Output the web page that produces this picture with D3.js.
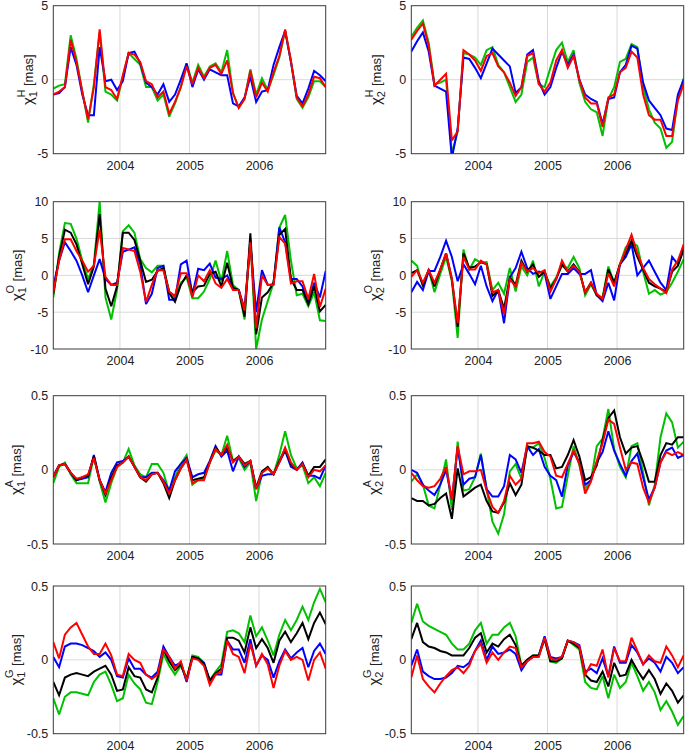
<!DOCTYPE html>
<html><head><meta charset="utf-8">
<script src="https://cdn.jsdelivr.net/npm/d3@7"></script>
<style>
body{margin:0;background:#fff;}
text{font-family:"Liberation Sans",Arial,Helvetica,sans-serif;}
</style></head>
<body><svg id="c" width="685" height="753"></svg>
<script>
// monthly epochs Jan 2003 .. Dec 2006 (mid-month)
const months = d3.range(48).map(i => 2003 + (i + 0.5) / 12);
const xTicks = [2004, 2005, 2006];
const yTicksH = [-5, 0, 5];
const yTicksO = [-10, -5, 0, 5, 10];
const yTicksAG = [-0.5, 0, 0.5];

// chi1 H
const h1_green = [-0.6,-0.4,-0.3,3.0,1.4,-0.8,-2.9,-0.3,3.2,-0.8,-1.0,-1.4,0.2,1.8,1.4,1.0,-0.5,-0.5,-1.4,-1.0,-2.5,-1.6,-0.5,1.1,-0.2,1.0,0.2,0.9,1.1,0.5,2.0,-0.9,-1.9,-1.3,0.7,-1.0,0.1,-0.7,0.3,1.5,3.3,1.2,-1.3,-1.9,-1.2,-0.1,-0.1,-0.5];
const h1_blue = [-1.0,-0.9,-0.5,2.2,1.0,-1.0,-2.4,-2.4,2.2,-0.1,0.0,-0.7,-0.1,1.8,1.9,1.1,-0.2,-0.5,-1.0,-0.3,-1.5,-1.0,0.0,1.1,-0.5,0.7,0.0,0.7,0.5,0.3,0.3,-1.6,-1.8,-1.2,0.2,-1.5,-0.8,-0.7,1.0,2.2,3.3,1.2,-1.1,-1.6,-0.6,0.6,0.3,-0.1];
const h1_red = [-1.0,-0.8,-0.5,2.7,1.2,-0.8,-2.7,-0.5,3.4,-0.5,-0.7,-1.3,0.3,1.8,1.7,1.2,-0.1,-0.3,-1.2,-0.8,-2.3,-1.5,-0.5,0.9,-0.3,0.8,0.1,0.8,1.0,0.4,1.3,-0.9,-1.9,-1.3,0.6,-1.2,-0.2,-0.8,0.5,1.6,3.4,1.3,-1.2,-1.8,-1.0,0.2,0.1,-0.5];

// chi2 H
const h2_green = [2.9,3.5,4.0,2.5,-0.3,-0.2,0.0,-5.0,-3.5,1.8,1.7,1.5,1.0,2.0,2.2,1.0,0.5,-0.5,-1.5,-1.0,1.2,1.5,-0.3,-0.5,0.8,2.0,2.5,1.2,2.0,-0.2,-1.5,-2.0,-2.2,-3.8,-1.3,-0.5,1.2,1.4,2.4,2.2,-0.5,-2.0,-2.9,-3.3,-4.6,-4.2,-1.2,0.1];
const h2_blue = [1.9,2.6,3.2,1.9,-0.4,-0.6,-0.8,-5.3,-3.3,1.5,1.4,0.8,0.1,1.1,2.1,1.7,1.3,0.9,-0.9,-0.5,1.7,2.0,-0.1,-1.0,-0.5,0.8,1.9,1.0,1.7,0.0,-1.0,-1.3,-1.5,-3.0,-1.3,-1.2,0.5,1.0,2.3,2.1,-0.2,-1.4,-1.9,-2.4,-3.3,-3.4,-1.0,0.0];
const h2_red = [2.7,3.3,3.8,2.3,-0.4,0.0,0.4,-4.1,-3.5,2.0,1.7,1.3,0.6,1.6,1.8,0.9,0.5,-0.2,-1.1,-0.5,1.6,1.8,-0.3,-0.8,-0.2,1.3,2.0,0.8,1.6,0.0,-1.2,-1.6,-1.6,-3.2,-1.2,-1.0,0.5,0.8,1.9,1.5,-1.0,-2.4,-2.7,-2.7,-3.8,-3.8,-1.4,-0.3];

// chi1 O
const o1_green = [-3.0,3.0,7.1,7.0,5.0,2.0,-0.5,1.5,10.0,-3.0,-6.0,-2.0,6.0,6.8,5.8,2.2,1.0,0.4,1.3,1.3,-2.3,-3.2,-1.0,-0.3,-3.1,-3.1,-2.2,-0.5,2.0,-0.8,3.3,-1.3,-2.0,-6.0,5.0,-10.0,-6.0,-3.5,-1.0,6.5,8.2,2.0,-2.7,-2.5,-4.2,-2.3,-6.1,-6.2];
const o1_blue = [-1.5,2.0,4.5,3.3,2.0,0.0,-2.3,0.0,2.2,-0.5,-1.3,-1.0,3.2,3.5,3.8,1.5,-3.9,-2.5,1.0,1.3,-3.3,-3.3,1.5,2.0,-2.6,0.9,0.7,1.6,-0.3,-0.5,0.0,-1.7,-2.0,-4.5,4.5,-5.0,0.7,-1.3,-1.2,6.5,4.5,-0.5,-0.5,-1.5,-3.8,-1.0,-3.0,0.6];
const o1_black = [-2.5,2.5,6.2,5.8,4.2,1.5,-1.2,1.2,8.3,-1.8,-4.2,-1.5,5.8,5.8,4.8,2.0,-0.9,-0.6,0.6,1.0,-2.4,-3.6,-1.3,0.0,-2.3,-1.5,-1.4,0.2,0.5,-1.5,1.7,-1.7,-2.0,-5.6,5.7,-8.0,-3.0,-2.3,-1.0,5.5,6.3,-0.5,-2.0,-2.0,-3.9,-1.5,-4.9,-4.0];
const o1_red = [-2.3,2.0,4.9,4.9,3.3,2.0,0.5,1.3,6.2,-0.2,-1.3,-1.3,3.7,3.5,3.3,0.5,-3.6,-1.3,0.7,0.7,-2.2,-2.8,0.3,0.3,-3.0,0.0,-0.8,0.7,-1.1,-1.7,-0.5,-2.0,-2.0,-4.8,4.5,-7.2,0.0,-1.3,-1.3,5.2,4.3,-1.1,-0.8,-0.8,-3.2,0.2,-4.3,-1.8];

// chi2 O
const o2_green = [2.0,1.3,-1.5,0.8,-2.3,0.2,2.5,-0.8,-8.5,3.5,0.8,2.2,1.7,1.8,-2.0,-1.0,-2.5,1.0,-2.2,1.2,0.0,2.0,-1.5,0.5,-1.5,-0.3,1.3,1.0,2.5,1.0,-2.7,-1.2,-2.7,-3.0,1.2,-1.0,1.5,3.8,4.5,4.0,0.5,-2.5,-2.0,-2.6,-2.3,-1.0,0.5,2.2];
const o2_blue = [-2.3,-0.9,-2.0,0.6,0.6,2.5,4.7,2.5,-0.8,1.5,0.2,-1.2,1.3,-1.5,-3.5,-2.0,-6.5,-0.3,1.0,3.2,1.0,0.2,0.5,0.3,-3.2,-1.5,0.2,0.2,1.0,0.2,0.2,0.7,-2.7,-3.5,-1.0,-3.4,1.5,2.5,4.2,0.0,1.0,2.0,0.5,-1.0,-2.0,2.5,1.5,3.8];
const o2_black = [0.3,0.7,-1.3,0.7,-1.5,0.8,3.0,-0.5,-7.0,3.0,1.0,1.2,1.8,1.5,-2.8,-2.0,-4.5,-0.3,-1.3,2.0,0.5,1.5,-0.2,0.5,-1.8,-0.5,1.5,0.5,1.5,0.5,-2.3,-1.0,-2.7,-3.2,0.8,-1.0,1.5,3.0,4.7,2.5,0.8,-1.0,-1.5,-1.8,-2.2,0.5,1.3,3.5];
const o2_red = [-0.2,0.7,-1.0,0.7,-1.0,0.8,3.0,-0.5,-6.5,2.5,0.8,0.8,2.0,1.5,-2.3,-2.0,-5.3,-0.5,-1.5,1.7,0.5,1.0,0.3,0.7,-2.2,-0.5,2.0,0.5,1.3,0.5,-2.3,-1.0,-2.5,-3.2,0.3,-1.5,1.5,3.5,5.5,3.0,1.0,-0.5,-1.2,-1.8,-2.4,0.8,2.0,4.2];

// chi1 A
const a1_green = [-0.09,0.02,0.05,-0.03,-0.09,-0.09,-0.09,0.09,-0.08,-0.22,-0.09,0.02,0.05,0.14,0.03,-0.03,-0.05,0.04,0.04,-0.02,-0.15,-0.05,0.04,0.10,-0.10,-0.07,-0.06,0.05,0.13,0.10,0.23,0.06,0.08,0.00,0.05,-0.21,-0.02,0.01,-0.03,0.10,0.26,0.10,0.01,0.03,-0.09,-0.05,-0.11,-0.02];
const a1_blue = [-0.04,0.03,0.04,-0.02,-0.07,-0.06,-0.05,0.10,-0.07,-0.15,-0.02,0.05,0.06,0.09,0.02,-0.05,-0.05,-0.02,-0.02,-0.07,-0.14,-0.01,0.04,0.08,-0.05,-0.03,-0.02,0.06,0.16,0.09,0.13,-0.01,0.09,0.02,0.06,-0.13,-0.04,-0.03,-0.03,0.05,0.13,0.02,0.00,0.05,-0.04,-0.04,-0.06,0.03];
const a1_black = [-0.05,0.03,0.04,-0.02,-0.07,-0.05,-0.04,0.09,-0.07,-0.17,-0.05,0.03,0.05,0.09,0.02,-0.05,-0.08,-0.03,-0.02,-0.09,-0.19,-0.07,0.01,0.07,-0.07,-0.06,-0.05,0.05,0.15,0.10,0.15,0.06,0.09,0.04,0.06,-0.12,-0.01,0.02,-0.03,0.06,0.14,0.04,0.00,0.04,-0.04,0.02,0.02,0.07];
const a1_red = [-0.05,0.03,0.04,-0.02,-0.06,-0.05,-0.03,0.08,-0.07,-0.16,-0.07,0.02,0.05,0.09,0.02,-0.05,-0.07,-0.03,-0.02,-0.08,-0.16,-0.07,0.01,0.07,-0.09,-0.07,-0.07,0.05,0.14,0.10,0.17,0.05,0.09,0.03,0.06,-0.13,-0.02,0.01,-0.03,0.05,0.15,0.05,0.00,0.04,-0.05,0.00,-0.01,0.03];

// chi2 A
const a2_green = [-0.08,-0.03,-0.10,-0.24,-0.26,-0.10,0.07,-0.27,0.19,-0.14,-0.13,-0.05,0.11,-0.13,-0.35,-0.43,-0.30,-0.01,0.04,-0.06,0.15,0.15,0.18,0.08,-0.06,-0.26,-0.25,-0.04,0.16,0.03,-0.13,-0.07,0.16,0.21,0.41,0.14,0.02,-0.05,0.16,0.18,-0.02,-0.24,-0.10,0.22,0.38,0.32,0.15,0.19];
const a2_blue = [0.00,-0.02,-0.10,-0.14,-0.17,-0.10,0.00,-0.20,0.15,-0.10,-0.06,-0.05,0.10,-0.13,-0.18,-0.18,-0.11,0.10,0.07,-0.02,0.16,0.10,0.14,0.02,-0.04,-0.07,-0.18,0.03,0.12,0.05,-0.10,-0.07,0.05,0.12,0.26,0.13,0.04,-0.04,0.06,0.11,-0.05,-0.20,-0.12,0.05,0.13,0.15,0.08,0.10];
const a2_black = [-0.19,-0.21,-0.21,-0.24,-0.23,-0.19,-0.16,-0.33,0.01,-0.18,-0.15,-0.12,-0.10,-0.21,-0.28,-0.29,-0.22,-0.09,-0.17,-0.10,0.16,0.15,0.13,0.10,0.10,0.01,0.02,0.10,0.20,0.09,-0.07,-0.05,0.03,0.20,0.35,0.40,0.22,0.11,0.15,0.16,0.05,-0.08,-0.08,0.10,0.18,0.17,0.22,0.22];
const a2_red = [-0.02,-0.07,-0.11,-0.12,-0.11,-0.06,0.02,-0.20,0.16,-0.03,-0.01,-0.01,0.00,-0.14,-0.25,-0.29,-0.21,-0.04,-0.10,-0.06,0.18,0.18,0.19,0.12,0.09,-0.04,-0.05,0.04,0.13,0.04,-0.16,-0.08,0.06,0.18,0.34,0.31,0.15,0.00,0.05,0.04,-0.12,-0.22,-0.12,0.05,0.12,0.10,0.12,0.10];

// chi1 G
const g1_green = [-0.26,-0.37,-0.25,-0.22,-0.22,-0.23,-0.24,-0.15,-0.10,-0.08,-0.17,-0.28,-0.26,-0.10,-0.16,-0.20,-0.29,-0.30,-0.15,0.04,-0.04,-0.10,-0.04,-0.13,0.03,0.02,-0.02,-0.14,-0.08,-0.03,0.19,0.20,0.18,0.12,0.30,0.16,0.22,0.13,0.03,0.17,0.27,0.20,0.27,0.36,0.27,0.39,0.48,0.39];
const g1_blue = [0.02,-0.05,0.09,0.11,0.11,0.10,0.08,0.06,0.02,0.05,0.00,-0.11,-0.12,0.01,-0.06,-0.06,-0.10,-0.12,-0.08,0.09,0.02,-0.04,-0.02,-0.15,0.02,0.01,-0.02,-0.14,-0.10,-0.10,0.13,0.07,0.07,-0.02,0.14,-0.04,0.03,0.00,-0.12,-0.01,0.07,0.01,0.05,0.08,-0.05,0.06,0.11,0.04];
const g1_black = [-0.15,-0.24,-0.12,-0.10,-0.09,-0.10,-0.11,-0.08,-0.06,-0.04,-0.10,-0.21,-0.20,-0.05,-0.11,-0.12,-0.20,-0.22,-0.12,0.07,-0.01,-0.07,-0.03,-0.13,0.02,0.01,-0.03,-0.14,-0.09,-0.06,0.15,0.15,0.13,0.05,0.22,0.08,0.14,0.08,-0.02,0.13,0.19,0.12,0.18,0.25,0.14,0.25,0.32,0.24];
const g1_red = [0.12,0.01,0.17,0.22,0.25,0.17,0.09,0.04,0.04,0.11,0.03,-0.10,-0.11,0.04,0.00,-0.02,-0.10,-0.13,-0.10,0.07,0.02,-0.06,-0.01,-0.14,0.01,0.00,-0.04,-0.17,-0.10,-0.08,0.13,0.04,0.02,-0.09,0.11,-0.04,0.04,-0.03,-0.19,-0.04,0.06,0.00,0.02,0.00,-0.14,0.00,0.05,-0.06];

// chi2 G
const g2_green = [0.25,0.38,0.26,0.23,0.21,0.19,0.17,0.11,0.07,0.07,0.11,0.20,0.25,0.11,0.17,0.17,0.22,0.25,0.16,-0.04,0.00,0.03,0.03,0.15,-0.01,-0.02,0.01,0.13,0.10,0.07,-0.15,-0.19,-0.20,-0.11,-0.26,-0.10,-0.19,-0.15,-0.02,-0.11,-0.21,-0.15,-0.22,-0.34,-0.28,-0.35,-0.44,-0.38];
const g2_blue = [-0.04,0.07,-0.08,-0.11,-0.13,-0.13,-0.12,-0.09,-0.04,-0.05,-0.02,0.06,0.13,0.00,0.09,0.04,0.05,0.07,0.04,-0.07,-0.01,0.02,0.03,0.16,0.02,0.01,0.02,0.13,0.12,0.10,-0.08,-0.06,-0.09,0.01,-0.11,0.09,-0.02,-0.02,0.10,0.05,-0.03,0.01,-0.02,-0.08,0.02,-0.02,-0.09,-0.05];
const g2_black = [0.14,0.25,0.12,0.09,0.08,0.06,0.05,0.03,0.03,0.03,0.08,0.15,0.18,0.05,0.11,0.09,0.14,0.17,0.10,-0.04,0.00,0.03,0.03,0.14,-0.01,-0.01,0.01,0.13,0.11,0.08,-0.10,-0.14,-0.15,-0.08,-0.18,-0.02,-0.11,-0.10,0.00,-0.07,-0.13,-0.07,-0.13,-0.23,-0.16,-0.21,-0.29,-0.24];
const g2_red = [-0.12,0.03,-0.13,-0.18,-0.22,-0.16,-0.11,-0.07,-0.05,-0.09,-0.04,0.06,0.11,-0.02,0.05,0.00,0.05,0.09,0.08,-0.05,-0.01,0.02,0.02,0.15,0.01,0.00,0.02,0.13,0.12,0.09,-0.10,-0.03,-0.04,0.07,-0.12,0.08,-0.01,-0.01,0.15,0.06,-0.03,0.03,-0.01,-0.02,0.09,0.03,-0.05,0.03];

const COLORS = {green:"#00c000", blue:"#0000ff", black:"#000000", red:"#ff0000"};

const panels = [
  {sup:"H", sub:"1", dom:[-5,5], ticks:yTicksH, series:{green:h1_green, blue:h1_blue, red:h1_red}},
  {sup:"H", sub:"2", dom:[-5,5], ticks:yTicksH, series:{green:h2_green, blue:h2_blue, red:h2_red}},
  {sup:"O", sub:"1", dom:[-10,10], ticks:yTicksO, series:{green:o1_green, blue:o1_blue, black:o1_black, red:o1_red}},
  {sup:"O", sub:"2", dom:[-10,10], ticks:yTicksO, series:{green:o2_green, blue:o2_blue, black:o2_black, red:o2_red}},
  {sup:"A", sub:"1", dom:[-0.5,0.5], ticks:yTicksAG, series:{green:a1_green, blue:a1_blue, black:a1_black, red:a1_red}},
  {sup:"A", sub:"2", dom:[-0.5,0.5], ticks:yTicksAG, series:{green:a2_green, blue:a2_blue, black:a2_black, red:a2_red}},
  {sup:"G", sub:"1", dom:[-0.5,0.5], ticks:yTicksAG, series:{green:g1_green, blue:g1_blue, black:g1_black, red:g1_red}},
  {sup:"G", sub:"2", dom:[-0.5,0.5], ticks:yTicksAG, series:{green:g2_green, blue:g2_blue, black:g2_black, red:g2_red}}
];

const cols = [[53.3, 325.7], [411.3, 683.7]];
const rows = [[5.7, 153.7], [201.7, 349], [395.7, 544], [586, 733.7]];
const labelX = [33, 381, 22, 380, 21, 379, 21, 379];

const svg = d3.select("#c");
const fmt = v => (v < 0 ? "-" : "") + String(Math.abs(v));

panels.forEach((p, k) => {
  const c = cols[k % 2], r = rows[Math.floor(k / 2)];
  const x = d3.scaleLinear().domain([months[0], months[47]]).range(c);
  const y = d3.scaleLinear().domain(p.dom).range([r[1], r[0]]);
  const g = svg.append("g");
  const cid = "clip" + k;
  g.append("clipPath").attr("id", cid).append("rect")
    .attr("x", c[0]).attr("y", r[0]).attr("width", c[1] - c[0]).attr("height", r[1] - r[0]);

  // grid
  g.selectAll(".gx").data(xTicks).join("line")
    .attr("x1", d => x(d)).attr("x2", d => x(d)).attr("y1", r[0]).attr("y2", r[1])
    .attr("stroke", "#d9d9d9").attr("stroke-width", 1);
  g.selectAll(".gy").data(p.ticks.filter(t => t > p.dom[0] && t < p.dom[1])).join("line")
    .attr("x1", c[0]).attr("x2", c[1]).attr("y1", d => y(d)).attr("y2", d => y(d))
    .attr("stroke", "#d9d9d9").attr("stroke-width", 1);

  // lines
  const line = d3.line().x((d, i) => x(months[i])).y(d => y(d));
  const lg = g.append("g").attr("clip-path", `url(#${cid})`);
  Object.entries(p.series).forEach(([name, vals]) => {
    lg.append("path").datum(vals).attr("d", line)
      .attr("fill", "none").attr("stroke", COLORS[name]).attr("stroke-width", 2)
      .attr("stroke-linejoin", "miter").attr("stroke-miterlimit", 3);
  });

  // axes via d3
  const xa = d3.axisBottom(x).tickValues(xTicks).tickFormat(d3.format("d")).tickSize(0).tickPadding(7);
  const ya = d3.axisLeft(y).tickValues(p.ticks).tickFormat(fmt).tickSize(0).tickPadding(5);
  const gx = g.append("g").attr("transform", `translate(0,${r[1]})`).call(xa);
  const gy = g.append("g").attr("transform", `translate(${c[0]},0)`).call(ya);
  [gx, gy].forEach(a => {
    a.select(".domain").remove();
    a.selectAll("text").attr("font-size", 12.5).attr("fill", "#222")
      .attr("font-family", '"Liberation Sans",Arial,sans-serif');
  });

  // box
  g.append("rect").attr("x", c[0]).attr("y", r[0]).attr("width", c[1] - c[0]).attr("height", r[1] - r[0])
    .attr("fill", "none").attr("stroke", "#3a3a3a").attr("stroke-width", 1);

  // y label
  const cy = (r[0] + r[1]) / 2;
  const t = g.append("text").attr("transform", `translate(${labelX[k]},${cy}) rotate(-90)`)
    .attr("text-anchor", "middle").attr("font-size", 13).attr("fill", "#222");
  t.append("tspan").attr("font-size", 15).text("χ");
  t.append("tspan").attr("font-size", 11).attr("dy", 4).text(p.sub);
  t.append("tspan").attr("font-size", 11).attr("dx", -6.5).attr("dy", -12.5).text(p.sup);
  t.append("tspan").attr("dy", 8.5).text(" [mas]");
});
</script></body></html>
